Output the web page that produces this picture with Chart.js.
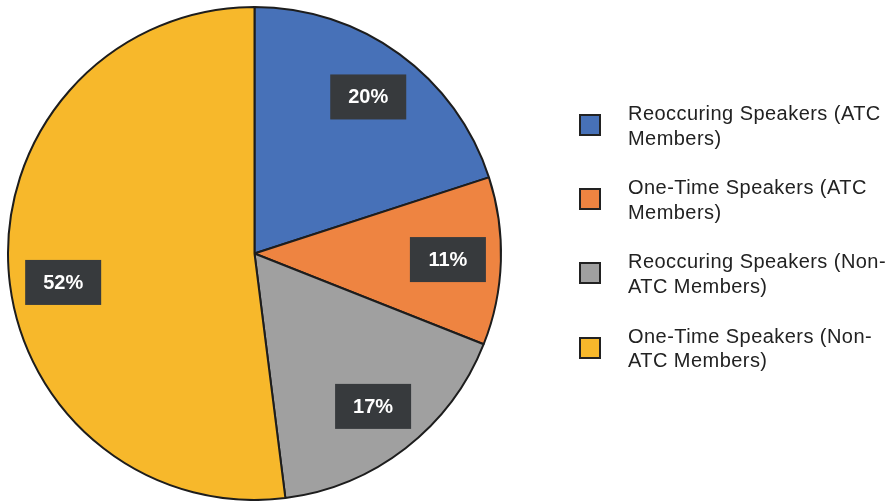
<!DOCTYPE html>
<html>
<head>
<meta charset="utf-8">
<script src="https://cdn.jsdelivr.net/npm/chart.js@4.4.0/dist/chart.umd.min.js"></script>
<style>
  body { margin: 0; background: #fff; }
  #wrap { position: relative; width: 896px; height: 501px; }
  #legend { position: absolute; left: 579px; top: 101px; font-family: "Liberation Sans", Arial, sans-serif; font-size: 20px; letter-spacing: 0.45px; color: #222; }
  .item { position: relative; height: 74.2px; }
  .box { position: absolute; left: 0; top: 13px; width: 18px; height: 18px; border: 2px solid #222; }
  .txt { position: absolute; left: 49px; top: 0; line-height: 24.5px; white-space: nowrap; }
</style>
</head>
<body>
<div id="wrap">
  <canvas id="myChart" width="896" height="501"></canvas>
  <div id="legend"></div>
</div>
<script>
var labels = [
  ['Reoccuring Speakers (ATC', 'Members)'],
  ['One-Time Speakers (ATC', 'Members)'],
  ['Reoccuring Speakers (Non-', 'ATC Members)'],
  ['One-Time Speakers (Non-', 'ATC Members)']
];
var values = [20, 11, 17, 52];
var colors = ['#4771b8', '#ee8441', '#a0a0a0', '#f7b82b'];
// small angle nudges (degrees) for where each percent box sits
var labelNudge = [0, 0, 0, -5];

// html legend, text wraps like the original
var legend = document.getElementById('legend');
labels.forEach(function (lab, i) {
  var item = document.createElement('div');
  item.className = 'item';
  item.innerHTML = '<div class="box" style="background:' + colors[i] + '"></div>' +
    '<div class="txt">' + lab.join('<br>') + '</div>';
  legend.appendChild(item);
});

var pctLabels = {
  id: 'pctLabels',
  afterDatasetsDraw: function (chart) {
    var ctx = chart.ctx;
    var meta = chart.getDatasetMeta(0);
    meta.data.forEach(function (arc, i) {
      var mid = (arc.startAngle + arc.endAngle) / 2 + labelNudge[i] * Math.PI / 180;
      var r = arc.outerRadius * 0.785;
      var x = arc.x + Math.cos(mid) * r;
      var y = arc.y + Math.sin(mid) * r;
      ctx.save();
      ctx.fillStyle = '#373a3d';
      ctx.fillRect(x - 38, y - 22.5, 76, 45);
      ctx.fillStyle = '#fff';
      ctx.font = 'bold 20px "Liberation Sans", Arial, sans-serif';
      ctx.textAlign = 'center';
      ctx.textBaseline = 'middle';
      ctx.fillText(Math.round(values[i]) + '%', x, y + 1);
      ctx.restore();
    });
  }
};

const myChart = new Chart(document.getElementById('myChart'), {
  type: 'pie',
  data: {
    labels: labels.map(function (l) { return l.join(' '); }),
    datasets: [{
      data: values,
      backgroundColor: colors,
      borderColor: '#1d1d1d',
      borderWidth: 2
    }]
  },
  options: {
    responsive: false,
    animation: false,
    layout: { padding: { left: 7, right: 394, top: 6, bottom: 0 } },
    plugins: {
      legend: { display: false },
      tooltip: { enabled: false }
    }
  },
  plugins: [pctLabels]
});
</script>
</body>
</html>
